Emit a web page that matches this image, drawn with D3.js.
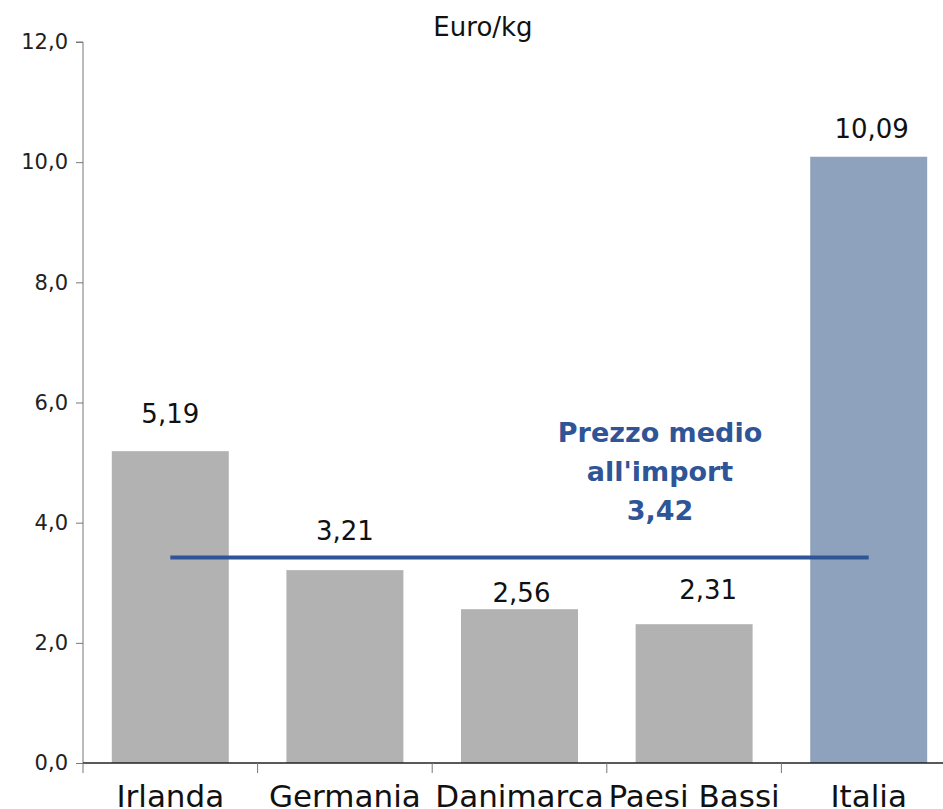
<!doctype html>
<html>
<head>
<meta charset="utf-8">
<title>Prezzo medio all'import</title>
<script src="https://d3js.org/d3.v7.min.js"></script>
<style>
body { margin: 0; background: #fff; }
text { font-family: "DejaVu Sans", sans-serif; }
</style>
</head>
<body>
<script>
// dati
var paesi = ["Irlanda", "Germania", "Danimarca", "Paesi Bassi", "Italia"];
var prezzi = [5.19, 3.21, 2.56, 2.31, 10.09];
var colori = ["#b2b2b2", "#b2b2b2", "#b2b2b2", "#b2b2b2", "#8ea2bd"];
var yTicks = [0, 2, 4, 6, 8, 10, 12];
var prezzoMedio = 3.42;
var notaMedia = ["Prezzo medio", "all'import", "3,42"];

var width = 943, height = 809;
var mLeft = 83, mRight = 956, mTop = 42, mBottom = 763;
// spostamenti manuali delle etichette (come nell'originale)
var labGap = [28, 30, 7, 25, 19];
var labDx = [0, 0, 2, 14, 3];

var fmt = function (v, d) { return v.toFixed(d).replace(".", ","); };

var svg = d3.select("body").append("svg")
    .attr("width", width)
    .attr("height", height);

var x = d3.scaleBand().domain(paesi).range([mLeft, mRight]).paddingInner(0.33).paddingOuter(0.165);
var y = d3.scaleLinear().domain([0, 12]).range([mBottom, mTop]);

// barre
svg.selectAll("rect.bar")
    .data(paesi)
    .enter()
    .append("rect")
    .attr("class", "bar")
    .attr("x", function (d) { return x(d); })
    .attr("y", function (d, i) { return y(prezzi[i]); })
    .attr("width", x.bandwidth())
    .attr("height", function (d, i) { return y(0) - y(prezzi[i]); })
    .style("fill", function (d, i) { return colori[i]; });

// etichette valori
svg.selectAll("text.val")
    .data(paesi)
    .enter()
    .append("text")
    .attr("class", "val")
    .attr("x", function (d, i) { return x(d) + x.bandwidth() / 2 + labDx[i]; })
    .attr("y", function (d, i) { return y(prezzi[i]) - labGap[i]; })
    .attr("text-anchor", "middle")
    .style("font-size", "26px")
    .style("fill", "#111")
    .text(function (d, i) { return fmt(prezzi[i], 2); });

// asse y
var yAxis = d3.axisLeft(y).tickValues(yTicks).tickSize(7).tickPadding(8)
    .tickFormat(function (d) { return fmt(d, 1); });
var gy = svg.append("g").attr("transform", "translate(" + mLeft + ",0)").call(yAxis);
gy.select(".domain").attr("d", "M-7," + mTop + "H0V" + mBottom).style("stroke", "#777");
gy.selectAll(".tick line").style("stroke", "#777");
gy.selectAll(".tick text").style("font-size", "21px").style("fill", "#222")
    .style("font-family", "DejaVu Sans");

// asse x con tacche tra le categorie
svg.append("line")
    .attr("x1", mLeft).attr("x2", width)
    .attr("y1", mBottom).attr("y2", mBottom)
    .style("stroke", "#222").style("stroke-width", 1.5);
var step = x.step();
svg.selectAll("line.sep")
    .data(paesi)
    .enter()
    .append("line")
    .attr("class", "sep")
    .attr("x1", function (d) { return x(d) - x.paddingOuter() * step; })
    .attr("x2", function (d) { return x(d) - x.paddingOuter() * step; })
    .attr("y1", mBottom).attr("y2", mBottom + 10)
    .style("stroke", "#777");
svg.selectAll("text.cat")
    .data(paesi)
    .enter()
    .append("text")
    .attr("class", "cat")
    .attr("x", function (d) { return x(d) + x.bandwidth() / 2; })
    .attr("y", mBottom + 44)
    .attr("text-anchor", "middle")
    .style("font-size", "31px")
    .style("fill", "#111")
    .text(function (d) { return d; });

// linea prezzo medio
svg.append("line")
    .attr("x1", x(paesi[0]) + x.bandwidth() / 2)
    .attr("x2", x(paesi[4]) + x.bandwidth() / 2)
    .attr("y1", y(prezzoMedio)).attr("y2", y(prezzoMedio))
    .style("stroke", "#2f5597").style("stroke-width", 4);

svg.selectAll("text.nota")
    .data(notaMedia)
    .enter()
    .append("text")
    .attr("class", "nota")
    .attr("x", 660)
    .attr("y", function (d, i) { return 442 + i * 39; })
    .attr("text-anchor", "middle")
    .style("font-size", "27px")
    .style("font-weight", "bold")
    .style("fill", "#2f5597")
    .text(function (d) { return d; });

// unità
svg.append("text")
    .attr("x", 483).attr("y", 36)
    .attr("text-anchor", "middle")
    .style("font-size", "26px")
    .style("fill", "#111")
    .text("Euro/kg");
</script>
</body>
</html>
